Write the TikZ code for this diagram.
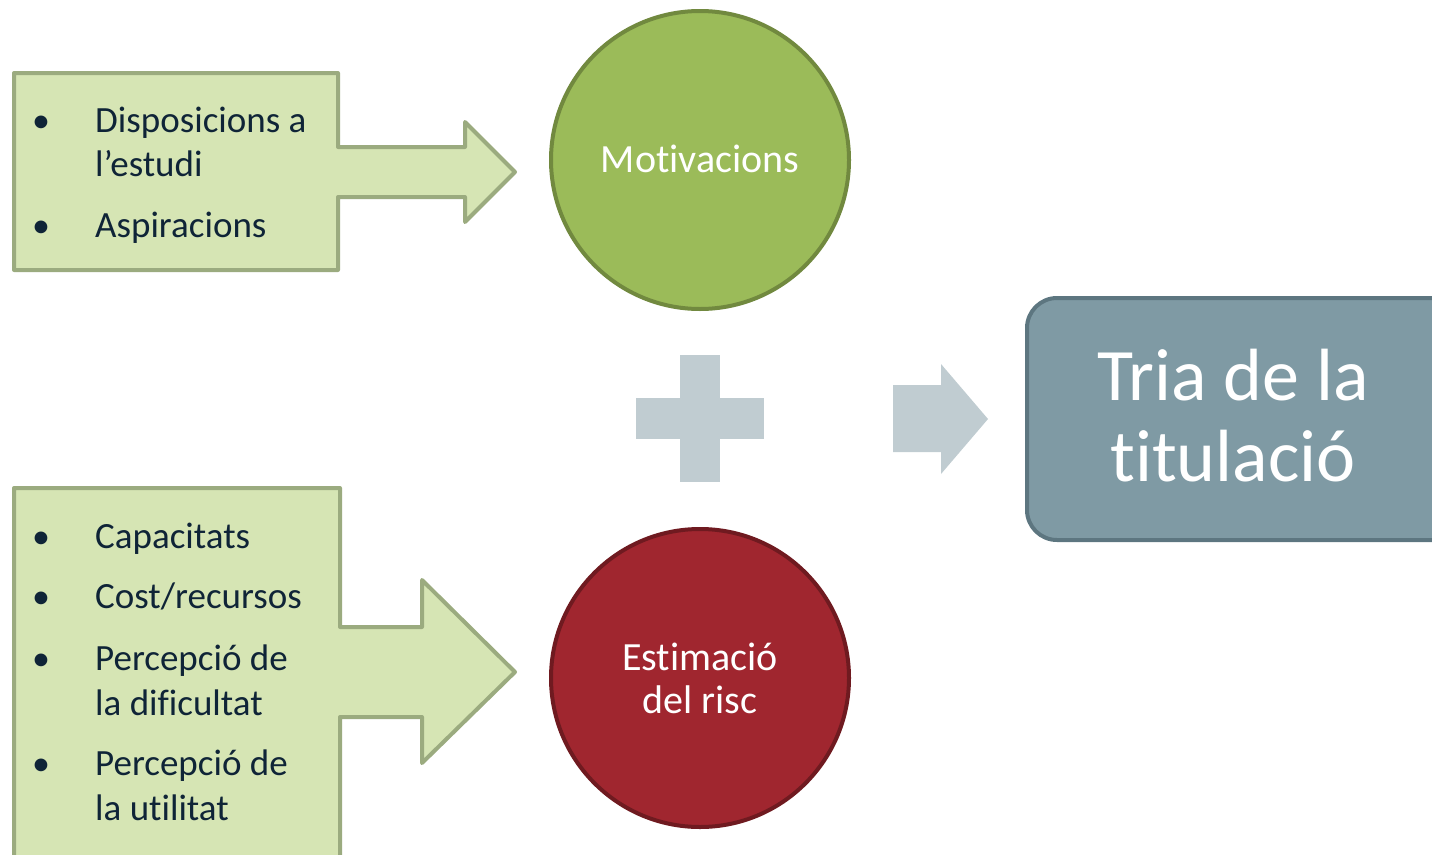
\documentclass[tikz,border=0pt]{standalone}
\usepackage{fontspec}
\setmainfont{Carlito}[Ligatures={NoCommon}]
\definecolor{callfill}{HTML}{D6E5B4}
\definecolor{calldraw}{HTML}{9BAB7F}
\definecolor{motfill}{HTML}{9BBB59}
\definecolor{motdraw}{HTML}{71893F}
\definecolor{estfill}{HTML}{A0262F}
\definecolor{estdraw}{HTML}{6F1A20}
\definecolor{plusgray}{HTML}{C0CCD1}
\definecolor{boxfill}{HTML}{7F9AA4}
\definecolor{boxdraw}{HTML}{5D7680}
\definecolor{txtdark}{HTML}{0F2437}
\tikzset{
  callout/.style={fill=callfill, draw=calldraw, line width=4pt, line join=round},
  bul/.style={anchor=base west, inner sep=0pt, text=txtdark, font=\fontsize{36}{44}\selectfont},
  itm/.style={anchor=base west, inner sep=0pt, text=txtdark, font=\fontsize{37}{44}\selectfont},
  circtxt/.style={text=white, font=\fontsize{40}{43}\selectfont, align=center, inner sep=0pt},
}
\begin{document}
\begin{tikzpicture}[x=1pt,y=-1pt]
\useasboundingbox (0,0) rectangle (1432,854);
% top callout
\draw[callout] (14,73) -- (338,73) -- (338,147) -- (465,147) -- (465,122) -- (515,172)
  -- (465,222) -- (465,197) -- (338,197) -- (338,270) -- (14,270) -- cycle;
% bottom callout
\draw[callout] (14,488) -- (340,488) -- (340,627) -- (422,627) -- (422,580) -- (515,672)
  -- (422,763) -- (422,717) -- (340,717) -- (340,870) -- (14,870) -- cycle;
% bullets and texts top
\node[bul] (b1) at (32,132) {•};
\node[itm] (t1) at (95,132) {Disposicions a};
\node[itm] (t1b) at (95,176) {l’estudi};
\node[bul] (b2) at (32,237) {•};
\node[itm] (t2) at (95,237) {Aspiracions};
% bottom bullets
\node[bul] (b3) at (32,548) {•};
\node[itm] (t3) at (95,548) {Capacitats};
\node[bul] (b4) at (32,608) {•};
\node[itm] (t4) at (95,608) {Cost/recursos};
\node[bul] (b5) at (32,670) {•};
\node[itm] (t5) at (95,670) {Percepció de};
\node[itm] (t5b) at (95,715) {la dificultat};
\node[bul] (b6) at (32,775) {•};
\node[itm] (t6) at (95,775) {Percepció de};
\node[itm] (t6b) at (95,820) {la utilitat};
% circles
\draw[fill=motfill, draw=motdraw, line width=4pt] (700,160) circle (149);
\node[circtxt] (mot) at (700,159) {Motivacions};
\draw[fill=estfill, draw=estdraw, line width=4pt] (700,678) circle (149);
\node[circtxt] (est) at (700,678) {Estimació\\del risc};
% plus
\fill[plusgray] (636,398) rectangle (764,439);
\fill[plusgray] (680,355) rectangle (720,482);
% arrow
\fill[plusgray] (893,385) -- (941,385) -- (941,364) -- (988,419) -- (941,474) -- (941,452) -- (893,452) -- cycle;
% result box
\draw[fill=boxfill, draw=boxdraw, line width=4pt, rounded corners=30pt] (1027,298) rectangle (1470,540);
\node[text=white, font=\fontsize{74}{81}\selectfont, align=center, inner sep=0pt] (res) at (1233,416) {Tria de la\\titulació};
\end{tikzpicture}
\end{document}
